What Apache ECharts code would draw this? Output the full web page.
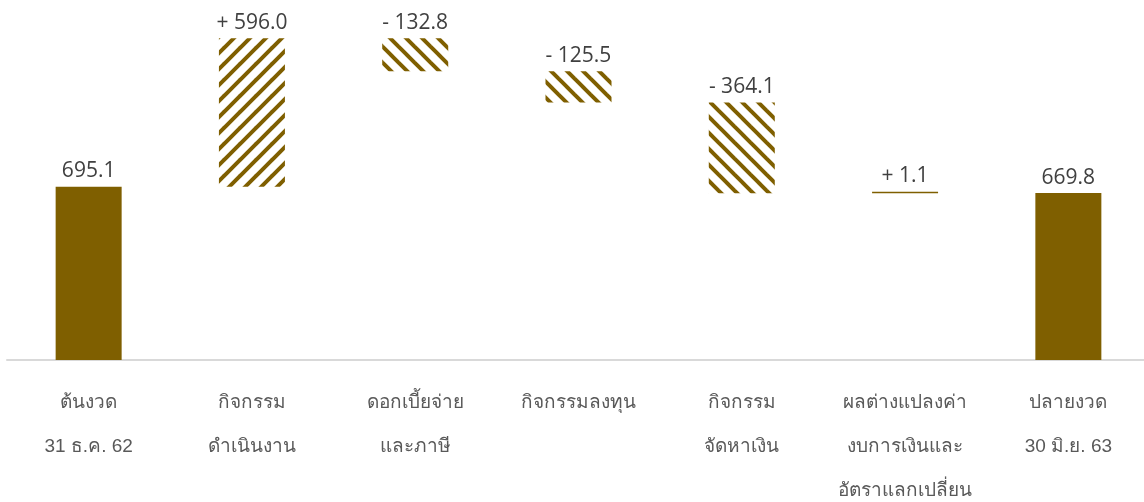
<!DOCTYPE html>
<html lang="th">
<head>
    <meta charset="UTF-8">
    <title>กระแสเงินสด</title>
    <script src="https://cdn.jsdelivr.net/npm/echarts@6/dist/echarts.min.js"></script>
    <style>
        html, body { margin: 0; padding: 0; background: #fff; }
        #chart { width: 1144px; height: 502px; }
    </style>
</head>
<body>
<div id="chart"></div>
<script>
    const categories = [
        'ต้นงวด\n31 ธ.ค. 62',
        'กิจกรรม\nดำเนินงาน',
        'ดอกเบี้ยจ่าย\nและภาษี',
        'กิจกรรมลงทุน',
        'กิจกรรม\nจัดหาเงิน',
        'ผลต่างแปลงค่า\nงบการเงินและ\nอัตราแลกเปลี่ยน',
        'ปลายงวด\n30 มิ.ย. 63'
    ];
    const startValue = 695.1;
    const changes = [596.0, -132.8, -125.5, -364.1, 1.1];
    const endValue = 669.8;

    const gold = '#7f5f00';

    // diagonal hatch, dir 1 = "/" , -1 = "\"
    function hatch(dir) {
        const s = 16;
        const c = document.createElement('canvas');
        c.width = s; c.height = s;
        const g = c.getContext('2d');
        g.strokeStyle = gold;
        g.lineWidth = 4;
        g.lineCap = 'square';
        for (let k = -1; k <= 1; k++) {
            g.beginPath();
            if (dir > 0) {
                g.moveTo(k * s, s); g.lineTo(k * s + s, 0);
            } else {
                g.moveTo(k * s, 0); g.lineTo(k * s + s, s);
            }
            g.stroke();
        }
        return { image: c, repeat: 'repeat' };
    }
    const upFill = hatch(1);
    const downFill = hatch(-1);

    // build waterfall pieces
    const baseData = [0];
    const barData = [{ value: startValue, itemStyle: { color: gold } }];
    let total = startValue;
    changes.forEach(d => {
        const next = total + d;
        baseData.push(Math.min(total, next));
        let style = { color: d >= 0 ? upFill : downFill };
        if (Math.abs(d) < 5) style = { color: gold };
        barData.push({ value: Math.abs(d), sign: d >= 0 ? '+ ' : '- ', itemStyle: style });
        total = next;
    });
    baseData.push(0);
    barData.push({ value: endValue, itemStyle: { color: gold } });

    let chart = echarts.init(document.getElementById('chart'));
    chart.setOption({
        animation: false,
        backgroundColor: '#fff',
        grid: { left: 7, right: -6, top: 11, bottom: 142, outerBoundsMode: 'none', containLabel: false },
        xAxis: {
            type: 'category',
            data: categories,
            axisTick: { show: false },
            axisLine: { lineStyle: { color: '#d9d9d9', width: 2 } },
            axisLabel: {
                interval: 0,
                margin: 21,
                fontSize: 19,
                lineHeight: 44,
                color: '#595959',
                fontFamily: 'sans-serif'
            }
        },
        yAxis: {
            type: 'value',
            show: false,
            min: 0,
            max: 1400,
            splitLine: { show: false }
        },
        series: [
            {
                type: 'bar',
                stack: 'w',
                barWidth: 66,
                silent: true,
                itemStyle: { color: 'transparent' },
                data: baseData
            },
            {
                type: 'bar',
                stack: 'w',
                barWidth: 66,
                barMinHeight: 1.5,
                label: {
                    show: true,
                    position: 'top',
                    distance: 5,
                    fontSize: 21,
                    color: '#404040',
                    fontFamily: 'Open Sans',
                    formatter: p => (p.data.sign || '') + p.value.toFixed(1)
                },
                data: barData
            }
        ]
    });
</script>
</body>
</html>
